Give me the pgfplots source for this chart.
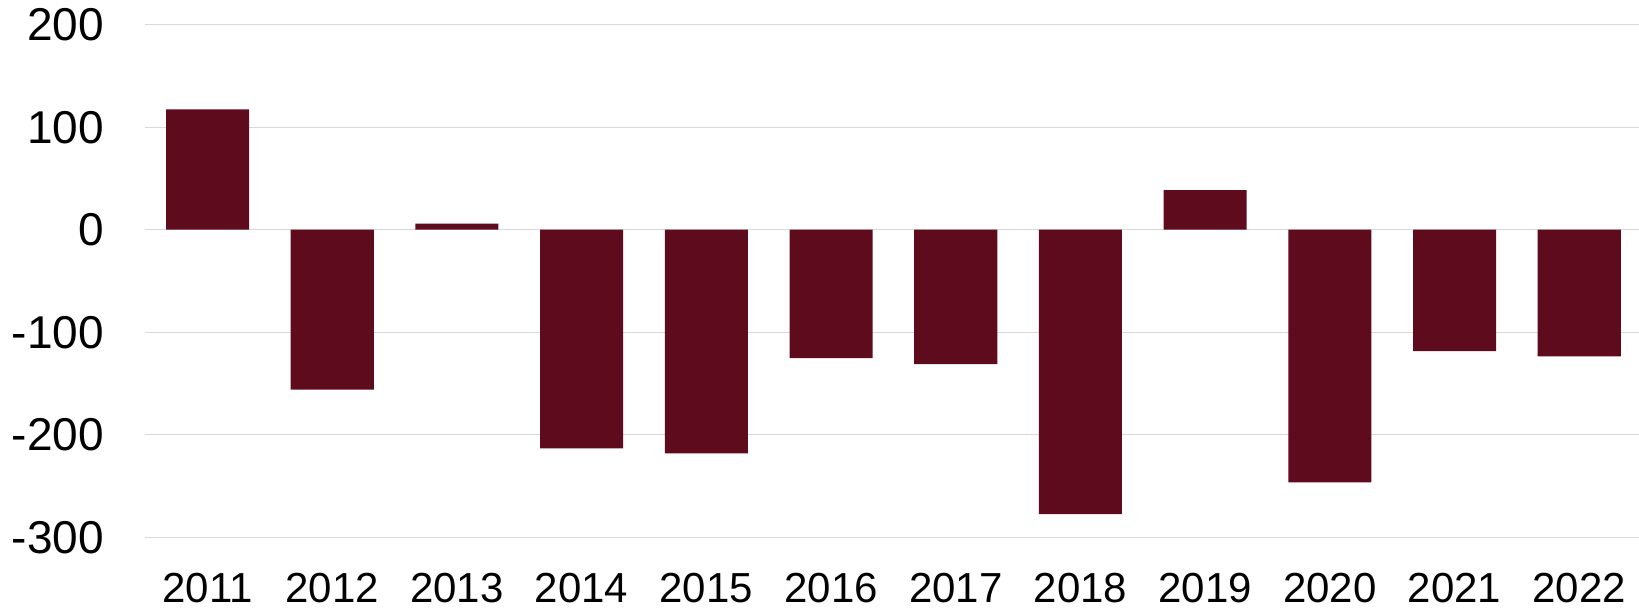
\documentclass[border=0pt]{standalone}
\usepackage{fontspec}
\setmainfont{Liberation Sans}
\usepackage{pgfplots}
\pgfplotsset{compat=1.18}
\definecolor{barc}{RGB}{94,11,29}
\definecolor{gridc}{RGB}{217,217,217}
\begin{document}
\begin{tikzpicture}
\useasboundingbox (-72.6pt,-38.35pt) rectangle (746.9pt,268.65pt);
\begin{axis}[
  at={(0pt,0pt)}, anchor=south west,
  scale only axis,
  width=748.2pt, height=256.3pt,
  xmin=-0.5, xmax=11.5,
  ymin=-300, ymax=200,
  ytick={-300,-200,-100,0,100,200},
  xtick=data,
  xticklabels={2011,2012,2013,2014,2015,2016,2017,2018,2019,2020,2021,2022},
  axis line style={draw=none},
  major tick length=0pt,
  ymajorgrids,
  grid style={gridc, line width=0.6pt},
  /pgf/number format/assume math mode=true,
  yticklabel style={font=\fontsize{23}{27}\selectfont, anchor=east, inner sep=0pt, xshift=-20.5pt},
  xticklabel style={font=\fontsize{21}{25}\selectfont, anchor=north, inner sep=0pt, yshift=-17.9pt},
]
\addplot[ybar, bar width=0.666, fill=barc, draw=none] coordinates {
(0,117.5) (1,-156) (2,6) (3,-213.3) (4,-218.2) (5,-125.2) (6,-131) (7,-277.4) (8,38.7) (9,-246.4) (10,-118.3) (11,-123.5)
};
\end{axis}
\end{tikzpicture}
\end{document}
